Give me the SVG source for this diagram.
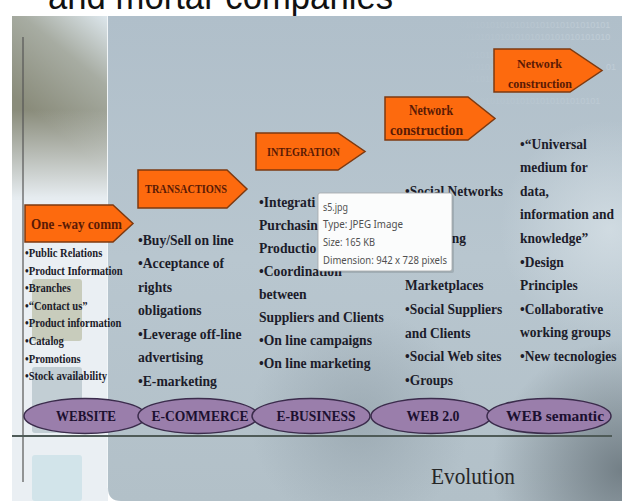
<svg xmlns="http://www.w3.org/2000/svg" width="622" height="501" viewBox="0 0 622 501">
<defs>
<style>
.arrow{fill:#fd6a0e;stroke:#7e3a10;stroke-width:1.5}
.alab{font-family:"Liberation Serif",serif;font-weight:bold;fill:#5a1a05}
.bul{font-family:"Liberation Serif",serif;font-weight:bold;fill:#1c1c2a}
.c1{font-size:12px}
.c2{font-size:15.5px}
.ell{fill:#9a7eab;stroke:#3b2c4c;stroke-width:1.5}
.elab{font-family:"Liberation Serif",serif;font-weight:bold;font-size:15px;fill:#1c1030;text-anchor:middle}
.tip{font-family:"Noto Sans","Open Sans",sans-serif;font-size:11.5px;fill:#505050}
.bin{font-family:"Liberation Sans",sans-serif;font-size:9px}
</style>
<linearGradient id="gMain" x1="0" y1="0" x2="0" y2="1">
<stop offset="0" stop-color="#b0bfca"/>
<stop offset="0.5" stop-color="#b8c6cf"/>
<stop offset="1" stop-color="#b2c0c8"/>
</linearGradient>
<radialGradient id="gDarkBR" cx="622" cy="470" r="130" gradientUnits="userSpaceOnUse">
<stop offset="0" stop-color="#6c787f" stop-opacity="0.9"/>
<stop offset="1" stop-color="#6c787f" stop-opacity="0"/>
</radialGradient>
<radialGradient id="gLightR" cx="610" cy="230" r="110" gradientUnits="userSpaceOnUse">
<stop offset="0" stop-color="#d6e0e6" stop-opacity="0.8"/>
<stop offset="1" stop-color="#d6e0e6" stop-opacity="0"/>
</radialGradient>
<radialGradient id="gDarkMid" cx="360" cy="420" r="110" gradientUnits="userSpaceOnUse">
<stop offset="0" stop-color="#8e9ca5" stop-opacity="0.6"/>
<stop offset="1" stop-color="#8e9ca5" stop-opacity="0"/>
</radialGradient>
<linearGradient id="gLeft" x1="108" y1="16" x2="30" y2="110" gradientUnits="userSpaceOnUse">
<stop offset="0" stop-color="#dde7ed"/>
<stop offset="0.45" stop-color="#a7aca2"/>
<stop offset="1" stop-color="#8a8c7b"/>
</linearGradient>
<linearGradient id="gLeftFade" x1="0" y1="110" x2="0" y2="198" gradientUnits="userSpaceOnUse">
<stop offset="0" stop-color="#e6ecf0" stop-opacity="0"/>
<stop offset="1" stop-color="#e6ecf0" stop-opacity="1"/>
</linearGradient>
<radialGradient id="gBin" cx="622" cy="40" r="170" gradientUnits="userSpaceOnUse">
<stop offset="0" stop-color="#d3dde4" stop-opacity="0.5"/>
<stop offset="1" stop-color="#d3dde4" stop-opacity="0"/>
</radialGradient>
</defs>

<rect x="0" y="0" width="622" height="501" fill="#ffffff"/>
<text x="48" y="9" font-family="Liberation Sans, sans-serif" font-size="36" fill="#111" textLength="345" lengthAdjust="spacingAndGlyphs">and mortar companies</text>

<g id="background">
<rect x="12" y="16" width="96" height="485" fill="#eaeff3"/>
<rect x="12" y="16" width="96" height="184" fill="url(#gLeft)"/>
<rect x="12" y="110" width="96" height="90" fill="url(#gLeftFade)"/>
<path d="M108,16 H622 V501 H121 Q108,501 108,488 Z" fill="url(#gMain)"/>
<path d="M108,16 H622 V501 H121 Q108,501 108,488 Z" fill="url(#gDarkMid)"/>
<path d="M108,16 H622 V501 H121 Q108,501 108,488 Z" fill="url(#gLightR)"/>
<path d="M108,16 H622 V501 H121 Q108,501 108,488 Z" fill="url(#gDarkBR)"/>
<line x1="107.5" y1="16" x2="107.5" y2="488" stroke="#f2f6f8" stroke-width="1"/>
<rect x="32" y="279" width="50" height="62" rx="3" fill="#c8ccbc"/>
<rect x="32" y="367" width="50" height="66" rx="3" fill="#c2ced4"/>
<rect x="32" y="455" width="50" height="46" rx="3" fill="#d2e4ea"/>
<g class="bin" fill="url(#gBin)">
<text x="460" y="28">010101010101010101010101010101</text>
<text x="460" y="40">101010101010101010101010101010</text>
<text x="460" y="58">0101010</text>
<text x="606" y="70">01</text>
<text x="460" y="70">1010101</text>
<text x="460" y="82">0101010</text>
<text x="460" y="104">0101010101010101010101010101</text>
</g>
</g>

<g id="connectors">
<line x1="23" y1="37" x2="23" y2="482" stroke="#555" stroke-width="1.2"/>
<line x1="12" y1="436" x2="612" y2="436" stroke="#4f5b58" stroke-width="2"/>
</g>

<g id="node-website"><ellipse class="ell" cx="85" cy="416" rx="61" ry="17.5"/><text class="elab" x="86" y="421" textLength="60" lengthAdjust="spacingAndGlyphs">WEBSITE</text></g>
<g id="node-ecommerce"><ellipse class="ell" cx="198" cy="416" rx="60" ry="17.5"/><text class="elab" x="200" y="421" textLength="97" lengthAdjust="spacingAndGlyphs">E-COMMERCE</text></g>
<g id="node-ebusiness"><ellipse class="ell" cx="311" cy="416" rx="59" ry="17.5"/><text class="elab" x="316" y="421" textLength="79" lengthAdjust="spacingAndGlyphs">E-BUSINESS</text></g>
<g id="node-web20"><ellipse class="ell" cx="431" cy="416" rx="60" ry="17.5"/><text class="elab" x="433" y="421" textLength="53" lengthAdjust="spacingAndGlyphs">WEB 2.0</text></g>
<g id="node-websemantic"><ellipse class="ell" cx="549" cy="416" rx="62" ry="17.5"/><text class="elab" x="555" y="421" textLength="98" lengthAdjust="spacingAndGlyphs">WEB semantic</text></g>

<g id="arrow-oneway"><path class="arrow" d="M25,205 H113 L133,223.5 L113,242 H25 Z"/><text class="alab" x="31" y="229" font-size="15" textLength="91" lengthAdjust="spacingAndGlyphs">One -way comm</text></g>
<g id="arrow-transactions"><path class="arrow" d="M138,170 H227 L247,189 L227,208 H138 Z"/><text class="alab" x="145" y="193" font-size="12" textLength="82" lengthAdjust="spacingAndGlyphs">TRANSACTIONS</text></g>
<g id="arrow-integration"><path class="arrow" d="M256,133 H338 L365,151.5 L338,170 H256 Z"/><text class="alab" x="267" y="156" font-size="12" textLength="73" lengthAdjust="spacingAndGlyphs">INTEGRATION</text></g>
<g id="arrow-network1"><path class="arrow" d="M385,97 H468 L495,118.5 L468,140 H385 Z"/><text class="alab" x="409" y="115" font-size="14" textLength="44" lengthAdjust="spacingAndGlyphs">Network</text><text class="alab" x="390" y="135" font-size="14" textLength="73" lengthAdjust="spacingAndGlyphs">construction</text></g>
<g id="arrow-network2"><path class="arrow" d="M494,49 H570 L602,70.5 L570,92 H494 Z"/><text class="alab" x="517" y="68" font-size="13" textLength="45" lengthAdjust="spacingAndGlyphs">Network</text><text class="alab" x="508" y="88" font-size="13" textLength="64" lengthAdjust="spacingAndGlyphs">construction</text></g>

<g id="list-website" class="bul c1" transform="translate(25,0) scale(0.88,1)">
<text x="0" y="257">•Public Relations</text>
<text x="0" y="275">•Product Information</text>
<text x="0" y="292">•Branches</text>
<text x="0" y="310">•“Contact us”</text>
<text x="0" y="327">•Product information</text>
<text x="0" y="345">•Catalog</text>
<text x="0" y="363">•Promotions</text>
<text x="0" y="380">•Stock availability</text>
</g>

<g id="list-ecommerce" class="bul c2" transform="translate(138,0) scale(0.88,1)">
<text x="0" y="245">•Buy/Sell on line</text>
<text x="0" y="268.5">•Acceptance of</text>
<text x="0" y="292">rights</text>
<text x="0" y="315.5">obligations</text>
<text x="0" y="339">•Leverage off-line</text>
<text x="0" y="362.5">advertising</text>
<text x="0" y="386">•E-marketing</text>
</g>

<g id="list-ebusiness" class="bul c2" transform="translate(259,0) scale(0.88,1)">
<text x="0" y="207">•Integrati</text>
<text x="0" y="230">Purchasin</text>
<text x="0" y="253">Productio</text>
<text x="0" y="276">•Coordination</text>
<text x="0" y="299">between</text>
<text x="0" y="322">Suppliers and Clients</text>
<text x="0" y="345">•On line campaigns</text>
<text x="0" y="368">•On line marketing</text>
</g>

<g id="list-web20" class="bul c2" transform="translate(405,0) scale(0.87,1)">
<text x="0" y="196">•Social Networks</text>
<text x="70" y="243" text-anchor="end">ng</text>
<text x="0" y="290">Marketplaces</text>
<text x="0" y="314">•Social Suppliers</text>
<text x="0" y="337.6">and Clients</text>
<text x="0" y="361">•Social Web sites</text>
<text x="0" y="385">•Groups</text>
</g>

<g id="list-websemantic" class="bul c2" transform="translate(520,0) scale(0.87,1)">
<text x="0" y="149">•“Universal</text>
<text x="0" y="172.5">medium for</text>
<text x="0" y="196">data,</text>
<text x="0" y="219.5">information and</text>
<text x="0" y="243">knowledge”</text>
<text x="0" y="267">•Design</text>
<text x="0" y="290.5">Principles</text>
<text x="0" y="314">•Collaborative</text>
<text x="0" y="337.5">working groups</text>
<text x="0" y="361">•New tecnologies</text>
</g>

<g id="tooltip">
<rect x="320" y="195" width="134" height="78" rx="2" fill="#000" opacity="0.12"/>
<rect x="318" y="193" width="134" height="78" rx="2" fill="#fbfcfc" stroke="#a3a6a8" stroke-width="0.8"/>
<text class="tip" x="323" y="211" textLength="25" lengthAdjust="spacingAndGlyphs">s5.jpg</text>
<text class="tip" x="323" y="228" textLength="80" lengthAdjust="spacingAndGlyphs">Type: JPEG Image</text>
<text class="tip" x="323" y="246" textLength="52" lengthAdjust="spacingAndGlyphs">Size: 165 KB</text>
<text class="tip" x="323" y="264" textLength="124" lengthAdjust="spacingAndGlyphs">Dimension: 942 x 728 pixels</text>
</g>

<text id="evolution" x="431" y="484" font-family="Liberation Serif, serif" font-size="24" fill="#262626" textLength="84" lengthAdjust="spacingAndGlyphs">Evolution</text>
</svg>
